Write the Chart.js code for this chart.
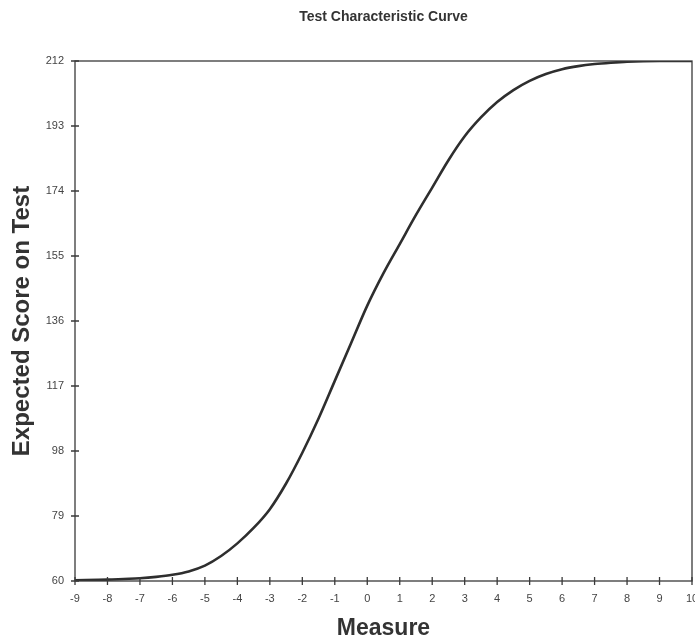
<!DOCTYPE html>
<html>
<head>
<meta charset="utf-8">
<script src="https://cdn.jsdelivr.net/npm/chart.js@4"></script>
<style>
  html, body { margin: 0; padding: 0; background: #fff; }
  #wrap { width: 695px; height: 644px; }
</style>
</head>
<body>
<div id="wrap"><canvas id="tcc"></canvas></div>
<script>
const measures = [-9, -8, -7.5, -7, -6.5, -6, -5.5, -5, -4.5, -4, -3.5, -3, -2.5, -2, -1.5, -1, -0.5, 0, 0.5, 1, 1.5, 2, 2.5, 3, 3.5, 4, 4.5, 5, 5.5, 6, 6.5, 7, 7.5, 8, 9, 10];
const scores = [60.2, 60.4, 60.6, 60.8, 61.2, 61.8, 62.8, 64.5, 67.3, 71, 75.5, 81, 88.5, 97.5, 107.5, 118.5, 129.5, 140.5, 150, 158.5, 167, 175, 183, 190, 195.5, 200, 203.5, 206.2, 208.2, 209.6, 210.5, 211.1, 211.5, 211.8, 212, 212];
const yTicks = [60, 79, 98, 117, 136, 155, 174, 193, 212];

const ink = '#3a3a3a';
const fontFamily = '"Liberation Sans", Arial, sans-serif';

// short tick marks crossing both axes, plus the plot frame
const axisMarks = {
  id: 'axisMarks',
  afterDraw(chart) {
    const { ctx, chartArea: area, scales } = chart;
    ctx.save();
    ctx.strokeStyle = ink;
    ctx.lineWidth = 1.3;
    ctx.strokeRect(area.left, area.top, area.right - area.left, area.bottom - area.top);
    ctx.beginPath();
    scales.x.ticks.forEach((tick) => {
      const px = scales.x.getPixelForValue(tick.value);
      ctx.moveTo(px, area.bottom - 4);
      ctx.lineTo(px, area.bottom + 4);
    });
    scales.y.ticks.forEach((tick) => {
      const py = scales.y.getPixelForValue(tick.value);
      ctx.moveTo(area.left - 4, py);
      ctx.lineTo(area.left + 4, py);
    });
    ctx.stroke();
    ctx.restore();
  }
};

new Chart(document.getElementById('tcc'), {
  type: 'scatter',
  data: {
    datasets: [
      {
        data: measures.map((m, i) => ({ x: m, y: scores[i] })),
        showLine: true,
        borderColor: '#2e2e2e',
        borderWidth: 2.6,
        pointRadius: 0,
        cubicInterpolationMode: 'monotone'
      }
    ]
  },
  options: {
    responsive: true,
    maintainAspectRatio: false,
    animation: false,
    layout: { autoPadding: false, padding: { right: 3 } },
    plugins: {
      legend: { display: false },
      tooltip: { enabled: false },
      title: {
        display: true,
        text: 'Test Characteristic Curve',
        fullSize: false,
        color: '#333',
        font: { family: fontFamily, size: 14, weight: 'bold', lineHeight: 1.2 },
        padding: { top: 9, bottom: 35.2 }
      }
    },
    scales: {
      x: {
        type: 'linear',
        min: -9,
        max: 10,
        grid: { display: false, drawTicks: false, tickLength: 0 },
        border: { display: false },
        ticks: {
          stepSize: 1,
          padding: 11,
          color: '#444',
          font: { family: fontFamily, size: 11 }
        },
        title: {
          display: true,
          text: 'Measure',
          color: '#333',
          font: { family: fontFamily, size: 23, weight: 'bold', lineHeight: 1.2 },
          padding: { top: 0, bottom: 2 }
        },
        afterFit(scale) {
          scale.height = 63;
          scale.paddingLeft = 0;
          scale.paddingRight = 0;
        }
      },
      y: {
        min: 60,
        max: 212,
        grid: { display: false, drawTicks: false, tickLength: 0 },
        border: { display: false },
        afterBuildTicks(scale) { scale.ticks = yTicks.map((v) => ({ value: v })); },
        ticks: {
          padding: 11,
          color: '#444',
          font: { family: fontFamily, size: 11 }
        },
        title: {
          display: true,
          text: 'Expected Score on Test',
          color: '#333',
          font: { family: fontFamily, size: 24, weight: 'bold', lineHeight: 1.2 },
          padding: { top: 8, bottom: 0 }
        },
        afterFit(scale) {
          scale.width = 75;
          scale.paddingTop = 0;
          scale.paddingBottom = 0;
        }
      }
    }
  },
  plugins: [axisMarks]
});
</script>
</body>
</html>
